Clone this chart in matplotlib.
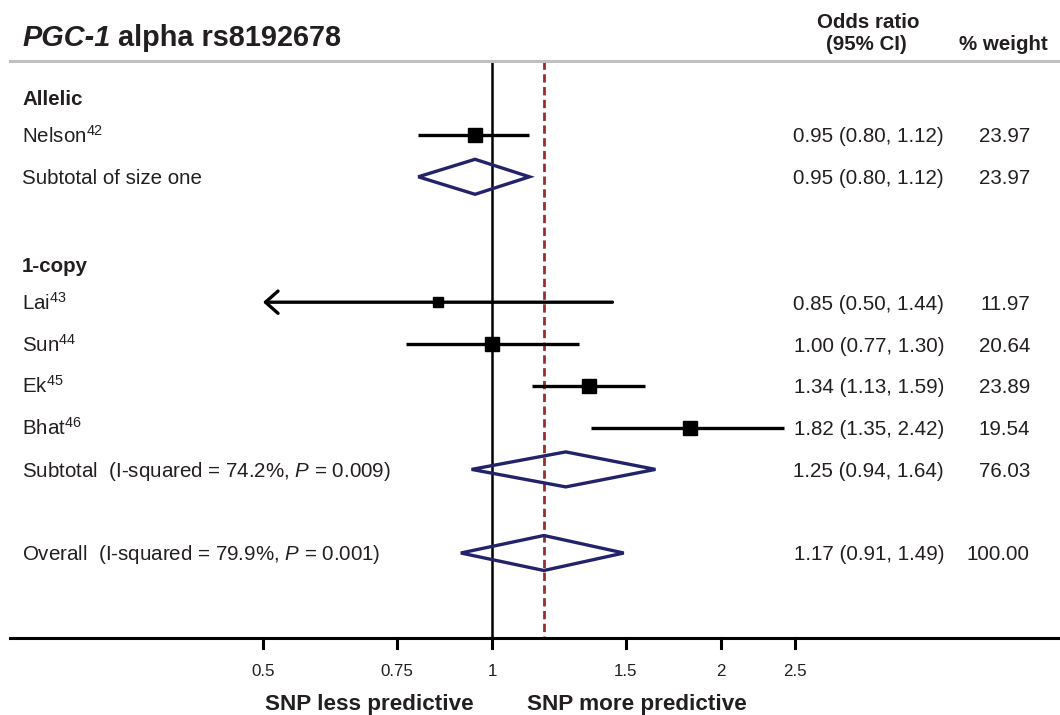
import numpy as np
import matplotlib
matplotlib.use('Agg')
import matplotlib.pyplot as plt
from matplotlib.patches import Polygon

plt.rcParams['font.family'] = ['Liberation Sans', 'DejaVu Sans']
plt.rcParams['mathtext.fontset'] = 'custom'
plt.rcParams['mathtext.rm'] = 'Liberation Sans'
plt.rcParams['mathtext.it'] = 'Liberation Sans:italic'
plt.rcParams['mathtext.bf'] = 'Liberation Sans:bold'

# dados dos estudos
estudos = ['Nelson', 'Lai', 'Sun', 'Ek', 'Bhat']
refs = ['42', '43', '44', '45', '46']
grupo = ['Allelic', '1-copy', '1-copy', '1-copy', '1-copy']
odds = [0.95, 0.85, 1.00, 1.34, 1.82]
ci_inf = [0.80, 0.50, 0.77, 1.13, 1.35]
ci_sup = [1.12, 1.44, 1.30, 1.59, 2.42]
peso = [23.97, 11.97, 20.64, 23.89, 19.54]

# subtotais por grupo
grupos = ['Allelic', '1-copy']
sub_odds = [0.95, 1.25]
sub_inf = [0.80, 0.94]
sub_sup = [1.12, 1.64]
sub_peso = [23.97, 76.03]
sub_rotulo = ['Subtotal of size one',
              'Subtotal  (I-squared = 74.2%, $\\mathit{P}$ = 0.009)']

# efeito global
total_odds, total_inf, total_sup, total_peso = 1.17, 0.91, 1.49, 100.00
total_rotulo = 'Overall  (I-squared = 79.9%, $\\mathit{P}$ = 0.001)'

ticks = [0.5, 0.75, 1, 1.5, 2, 2.5]
x_min = 0.5

titulo_it = 'PGC-1'
titulo_resto = ' alpha rs8192678'

# layout (pixels)
W, H = 1060, 715
x1_px, dobro_px = 492, 229
y0, passo = 135, 41.8
cor_txt = '#231f20'
azul = '#23236c'
fs = 14.8

fig = plt.figure(figsize=(W / 100, H / 100), dpi=100)
ax = fig.add_axes([0, 0, 1, 1])
ax.set_xscale('log', base=2)
ax.set_xlim(2 ** (-x1_px / dobro_px), 2 ** ((W - x1_px) / dobro_px))
ax.set_ylim(H, 0)
ax.axis('off')

lay = fig.add_axes([0, 0, 1, 1], facecolor='none')
lay.set_xlim(0, W)
lay.set_ylim(H, 0)
lay.axis('off')

def linha_y(i):
    return y0 + passo * i

# montar linhas
linhas = []
i = -1
for g_i, g in enumerate(grupos):
    linhas.append(('cab', g, i))
    i += 1
    for k in range(len(estudos)):
        if grupo[k] == g:
            linhas.append(('est', k, i))
            i += 1
    linhas.append(('sub', g_i, i))
    i += 2
linhas.append(('tot', None, i))

y_topo, y_eixo = 61, 638

# linhas verticais
ax.plot([1, 1], [y_topo, y_eixo], color='black', lw=1.8, zorder=2)
ax.plot([total_odds, total_odds], [y_topo, y_eixo], color='#9b2d30', lw=2,
        ls=(0, (3, 1.6)), zorder=1)

def diamante(est, lo, hi, y, h=17.5):
    pts = [(lo, y), (est, y - h), (hi, y), (est, y + h)]
    ax.add_patch(Polygon(pts, closed=True, fill=False, edgecolor=azul,
                         lw=2.4, zorder=3))

def colunas(y, o, lo, hi, p):
    lay.text(944, y + 7.5, f'{o:.2f} ({lo:.2f}, {hi:.2f})',
             fontsize=fs, color=cor_txt, va='baseline', ha='right')
    lay.text(1030, y + 7.5, f'{p:.2f}', fontsize=fs,
             color=cor_txt, va='baseline', ha='right')

for tipo, idx, r in linhas:
    y = linha_y(r)
    if tipo == 'cab':
        lay.text(22, y + 12, idx, fontsize=fs, fontweight='bold',
                 color=cor_txt, va='baseline')
    elif tipo == 'est':
        lo = max(ci_inf[idx], x_min)
        if ci_inf[idx] <= x_min:
            ax.annotate('', xy=(x_min, y), xytext=(ci_sup[idx], y),
                        arrowprops=dict(arrowstyle='->,head_length=0.45,head_width=0.4',
                                        lw=2.4, color='black', shrinkA=0,
                                        shrinkB=0, mutation_scale=20),
                        zorder=3)
        else:
            ax.plot([lo, ci_sup[idx]], [y, y], color='black', lw=2.4,
                    solid_capstyle='butt', zorder=3)
        lado = 3.06 * np.sqrt(peso[idx]) * 0.72
        ax.plot(odds[idx], y, marker='s', ms=lado, color='black', zorder=4)
        lay.text(22, y + 7.5, f'{estudos[idx]}$^{{{refs[idx]}}}$',
                 fontsize=fs, color=cor_txt, va='baseline')
        colunas(y, odds[idx], ci_inf[idx], ci_sup[idx], peso[idx])
    elif tipo == 'sub':
        diamante(sub_odds[idx], sub_inf[idx], sub_sup[idx], y)
        lay.text(22, y + 7.5, sub_rotulo[idx], fontsize=fs, color=cor_txt,
                 va='baseline')
        colunas(y, sub_odds[idx], sub_inf[idx], sub_sup[idx], sub_peso[idx])
    else:
        diamante(total_odds, total_inf, total_sup, y)
        lay.text(22, y + 7.5, total_rotulo, fontsize=fs, color=cor_txt,
                 va='baseline')
        colunas(y, total_odds, total_inf, total_sup, total_peso)

# linha superior e eixo
lay.plot([10, W], [y_topo, y_topo], color='#c0c0c0', lw=2.2)
lay.plot([10, W], [y_eixo, y_eixo], color='black', lw=2.2)
for t in ticks:
    ax.plot([t, t], [y_eixo, y_eixo + 10], color='black', lw=2.2)
    ax.text(t, 676, f'{t:g}', fontsize=12.2, color=cor_txt, ha='center',
            va='baseline')

# titulo e cabecalhos
t1 = lay.text(22, 46, titulo_it, fontsize=20.8, fontweight='bold',
              fontstyle='italic', color=cor_txt, va='baseline')
lay.annotate(titulo_resto, xy=(1, 0), xycoords=t1, fontsize=20.8,
             fontweight='bold', color=cor_txt, va='bottom', ha='left')
lay.text(868, 27.5, 'Odds ratio', fontsize=fs, fontweight='bold',
         color=cor_txt, ha='center', va='baseline')
lay.text(866, 50.5, '(95% CI)', fontsize=fs, fontweight='bold',
         color=cor_txt, ha='center', va='baseline')
lay.text(1003, 50.5, '% weight', fontsize=fs, fontweight='bold',
         color=cor_txt, ha='center', va='baseline')

lay.text(474, 710, 'SNP less predictive', fontsize=16.2, fontweight='bold',
         color=cor_txt, ha='right', va='baseline')
lay.text(527, 710, 'SNP more predictive', fontsize=16.2, fontweight='bold',
         color=cor_txt, ha='left', va='baseline')

fig.savefig('out.png', dpi=100)
